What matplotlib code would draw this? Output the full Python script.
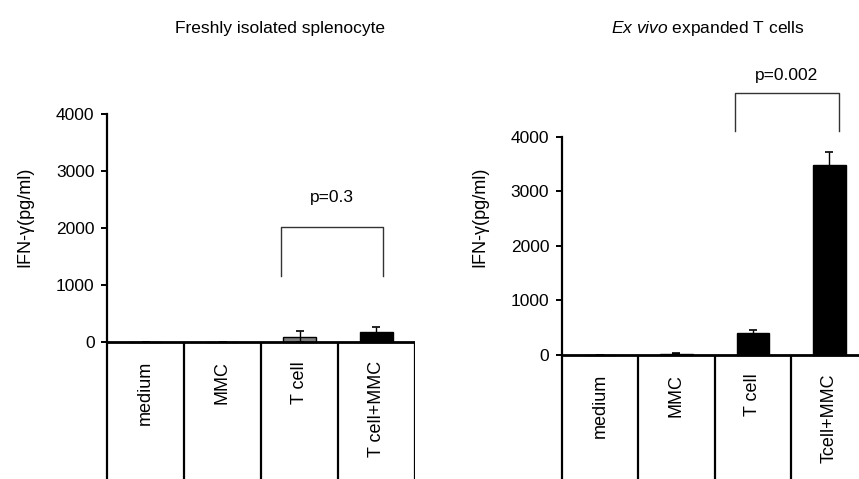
import numpy as np
import matplotlib
matplotlib.use('Agg')
import matplotlib.pyplot as plt
from matplotlib.transforms import offset_copy

plt.rcParams['font.family'] = ['Liberation Sans', 'DejaVu Sans']
plt.rcParams['mathtext.fontset'] = 'custom'
plt.rcParams['mathtext.rm'] = 'Liberation Sans'
plt.rcParams['mathtext.it'] = 'Liberation Sans:italic'

categories = ['medium', 'MMC', 'T cell', 'T cell+MMC']
categories_right = ['medium', 'MMC', 'T cell', 'Tcell+MMC']
yticks = [0, 1000, 2000, 3000, 4000]

# freshly isolated splenocytes
fresh_mean = [0, 0, 95, 175]
fresh_err = [0, 0, 100, 95]
fresh_colors = ['black', 'black', '#808080', 'black']

# ex vivo expanded T cells
expanded_mean = [0, 20, 395, 3480]
expanded_err = [0, 5, 50, 245]
expanded_colors = ['black', 'black', 'black', 'black']

fig = plt.figure(figsize=(8.59, 4.79), dpi=100)

W, H = 859, 479


def panel(left_px, zero_px, top_px, width_px, labels, mean, err, colors,
          bracket, ptext, title, title_x):
    px_per = (zero_px - top_px) / 4000.0
    ymin = -(H - zero_px) / px_per
    ax = fig.add_axes([left_px / W, 0, width_px / W, (H - top_px) / H])
    ax.set_xlim(-0.5, 3.5)
    ax.set_ylim(ymin, 4000)
    x = np.arange(len(labels))
    ax.bar(x, mean, width=0.42, color=colors, edgecolor='black',
           linewidth=1.0, zorder=2)
    ax.errorbar(x, mean, yerr=err, fmt='none', ecolor='black',
                elinewidth=1.0, capsize=3, capthick=1.2, zorder=3)
    for s in ['top', 'right', 'bottom']:
        ax.spines[s].set_visible(False)
    ax.spines['left'].set_linewidth(1.6)
    ax.spines['left'].set_bounds(ymin, 4000)
    ax.axhline(0, color='black', lw=2.0, zorder=4)
    ax.vlines(np.arange(0.5, 4.0, 1.0), ymin, 0, colors='black', lw=1.6)
    ax.set_yticks(yticks)
    ax.tick_params(axis='y', direction='out', length=4, width=1.4,
                   labelsize=12.5, pad=5)
    ax.set_xticks([])
    # category names sit in the boxes under the zero line
    lab_tr = offset_copy(ax.transData, fig=fig, x=0, y=-19, units='dots')
    for xi, lab in zip(x, labels):
        ax.text(xi, 0, lab, rotation=90, ha='center', va='top',
                fontsize=13, transform=lab_tr)
    # significance bracket
    x0, x1, ylo, yhi = bracket
    ax.plot([x0, x0, x1, x1], [ylo, yhi, yhi, ylo], color='#333333',
            lw=1.0, clip_on=False)
    ax.text((x0 + x1) / 2, ptext[1], ptext[0], ha='center', va='center',
            fontsize=12.5, clip_on=False)
    fig.text(title_x / W, 1 - 28 / H, title, ha='center', va='center',
             fontsize=12.5)
    return ax


ax1 = panel(107, 342, 114, 308, categories, fresh_mean, fresh_err,
            fresh_colors, (1.76, 3.09, 1150, 2020), ('p=0.3', 2530),
            'Freshly isolated splenocyte', 280)
ax2 = panel(561.7, 354.7, 136.7, 306, categories_right, expanded_mean,
            expanded_err, expanded_colors, (1.77, 3.12, 4110, 4800),
            ('p=0.002', 5120), r'$\it{Ex\ vivo}$ expanded T cells', 708)

fig.text(25 / W, 1 - 217 / H, 'IFN-γ(pg/ml)', rotation=90, ha='center',
         va='center', fontsize=13)
fig.text(480 / W, 1 - 217 / H, 'IFN-γ(pg/ml)', rotation=90, ha='center',
         va='center', fontsize=13)

fig.savefig('out.png', dpi=100)
